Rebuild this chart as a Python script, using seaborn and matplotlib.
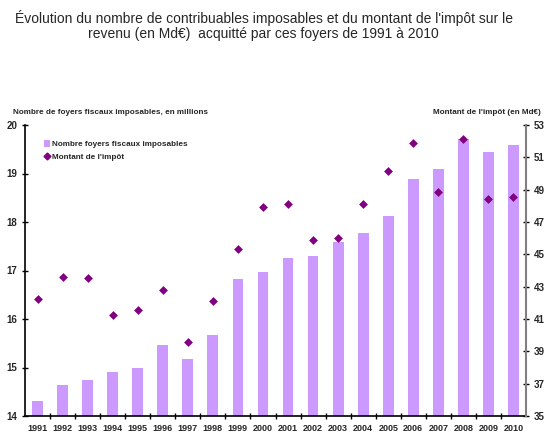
import matplotlib
matplotlib.use("Agg")
import matplotlib.pyplot as plt
import seaborn as sns
import pandas as pd
from matplotlib.ticker import FixedLocator, NullFormatter
from matplotlib.lines import Line2D
from matplotlib.patches import Patch

years = [str(y) for y in range(1991, 2011)]
foyers = [14.30, 14.64, 14.75, 14.91, 15.00, 15.46, 15.18, 15.67, 16.82, 16.97,
          17.26, 17.30, 17.59, 17.78, 18.13, 18.89, 19.09, 19.71, 19.45, 19.59]
impot = [42.25, 43.58, 43.53, 41.23, 41.54, 42.77, 39.58, 42.11, 45.31, 47.92,
         48.13, 45.86, 46.03, 48.13, 50.17, 51.90, 48.85, 52.13, 48.42, 48.54]

title = "Évolution du nombre de contribuables imposables et du montant de l'impôt sur le\nrevenu (en Md€)  acquitté par ces foyers de 1991 à 2010"
left_label = "Nombre de foyers fiscaux imposables, en millions"
right_label = "Montant de l'impôt (en Md€)"
legend_bar = "Nombre foyers fiscaux imposables"
legend_dot = "Montant de l'impôt"

bar_color = "#CC99FF"
dot_color = "#800080"

sns.set_theme(style="white")
plt.rcParams['font.family'] = ['Liberation Sans', 'DejaVu Sans']

df = pd.DataFrame({"year": years, "foyers": foyers, "impot": impot})

fig = plt.figure(figsize=(5.53, 4.43), dpi=100)
ax = fig.add_axes([25/553, 27/443, 501/553, 291/443])

sns.barplot(data=df, x="year", y="foyers", color=bar_color, width=0.43,
            saturation=1, ax=ax, edgecolor="none")
ax.set_ylim(14, 20)
ax.set_xlim(-0.5, len(years) - 0.5)
ax.set_xlabel("")
ax.set_ylabel("")

ax2 = ax.twinx()
sns.stripplot(data=df, x="year", y="impot", jitter=False, marker="D",
              color=dot_color, size=4.5, linewidth=0, ax=ax2)
ax2.set_ylim(35, 53)
ax2.set_xlim(-0.5, len(years) - 0.5)
ax2.set_ylabel("")
ax2.set_xlabel("")

for a in (ax, ax2):
    a.spines['top'].set_visible(False)
ax.spines['right'].set_visible(False)
ax2.spines['left'].set_visible(False)
ax2.spines['bottom'].set_visible(False)
ax.spines['left'].set_color('black')
ax.spines['bottom'].set_color('black')
ax.spines['left'].set_linewidth(1.2)
ax.spines['bottom'].set_linewidth(1.2)
ax2.spines['right'].set_color('#808080')
ax2.spines['right'].set_linewidth(1.5)

ax.set_yticks(range(14, 21))
ax.tick_params(axis='y', which='major', direction='inout', length=5, width=1,
               color='black', labelsize=7, pad=3)
ax2.set_yticks(range(35, 54, 2))
ax2.tick_params(axis='y', which='major', direction='inout', length=5, width=1,
                color='black', labelsize=7, pad=3)
for lab in ax.get_yticklabels() + ax2.get_yticklabels():
    lab.set_fontweight('bold')

ax.tick_params(axis='x', which='major', length=0, labelsize=6.5, pad=6)
ax.xaxis.set_minor_locator(FixedLocator([i + 0.5 for i in range(len(years) - 1)]))
ax.xaxis.set_minor_formatter(NullFormatter())
ax.tick_params(axis='x', which='minor', direction='inout', length=5, width=1,
               color='black', bottom=True)
for lab in ax.get_xticklabels():
    lab.set_fontweight('bold')

fig.text(0.477, 1 - 10/443, title, ha='center', va='top', fontsize=10,
         linespacing=1.1)
fig.text(13/553, 1 - 113/443, left_label, ha='left', va='center',
         fontsize=5.9, fontweight='bold')
fig.text(541/553, 1 - 113/443, right_label, ha='right', va='center',
         fontsize=5.9, fontweight='bold')

handles = [Patch(facecolor=bar_color, edgecolor='none'),
           Line2D([], [], marker='D', linestyle='none', color=dot_color,
                  markersize=3.5)]
leg = ax.legend(handles, [legend_bar, legend_dot], loc='upper left',
                bbox_to_anchor=(0.03, 0.963), frameon=False,
                prop={'size': 5.9, 'weight': 'bold'},
                handlelength=0.7, handleheight=0.9, handletextpad=0.3,
                labelspacing=0.55, borderpad=0)

fig.savefig("out.png", dpi=100, facecolor='white')
